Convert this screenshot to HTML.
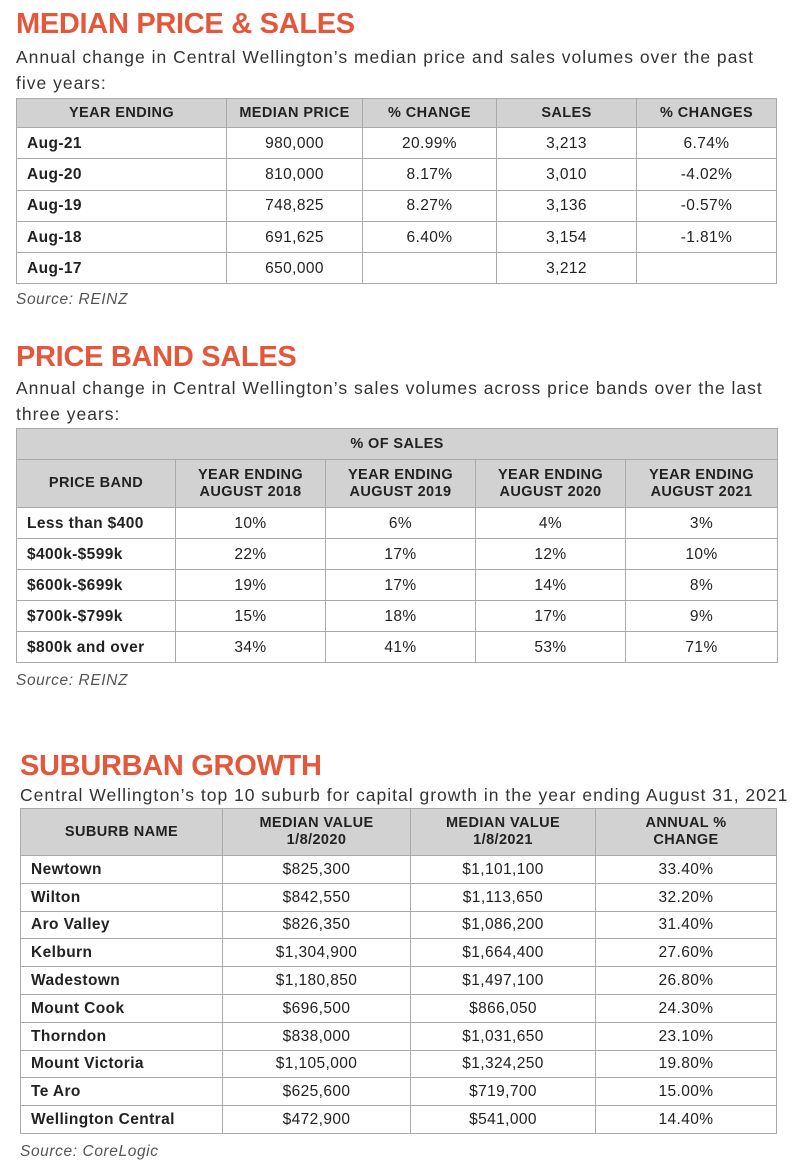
<!DOCTYPE html>
<html><head><meta charset="utf-8"><style>
*{margin:0;padding:0;box-sizing:border-box}
body{width:800px;height:1174px;background:#fff;position:relative;font-family:"Liberation Sans",sans-serif;color:#222;overflow:hidden}
.t{position:absolute;color:#e4573a;font-weight:bold;font-size:29px;letter-spacing:-0.3px}
.s{position:absolute;font-size:17.5px;line-height:26px;color:#333;letter-spacing:1px;white-space:nowrap}
.src{position:absolute;font-size:15.5px;font-style:italic;color:#555;letter-spacing:0.6px}
table{position:absolute;border-collapse:collapse;table-layout:fixed}
td,th{border:1.5px solid #aaa;text-align:center;font-size:15.5px;padding:0;line-height:17px;letter-spacing:0.4px}
th{background:#d2d2d2;font-size:14.5px;font-weight:bold;color:#222}
td.l{text-align:left;font-weight:bold;padding-left:10px}
</style></head><body>
<div class="t" style="left:16px;top:8px">MEDIAN PRICE &amp; SALES</div>
<div class="s" style="left:16px;top:44px">Annual change in Central Wellington’s median price and sales volumes over the past<br>five years:</div>
<table style="left:16px;top:98px;width:760px">
<colgroup><col style="width:210px"><col style="width:136px"><col style="width:134px"><col style="width:140px"><col style="width:140px"></colgroup>
<tr style="height:29px"><th>YEAR ENDING</th><th>MEDIAN PRICE</th><th>% CHANGE</th><th>SALES</th><th>% CHANGES</th></tr>
<tr style="height:31.3px"><td class="l">Aug-21</td><td>980,000</td><td>20.99%</td><td>3,213</td><td>6.74%</td></tr>
<tr style="height:31.3px"><td class="l">Aug-20</td><td>810,000</td><td>8.17%</td><td>3,010</td><td>-4.02%</td></tr>
<tr style="height:31.3px"><td class="l">Aug-19</td><td>748,825</td><td>8.27%</td><td>3,136</td><td>-0.57%</td></tr>
<tr style="height:31.3px"><td class="l">Aug-18</td><td>691,625</td><td>6.40%</td><td>3,154</td><td>-1.81%</td></tr>
<tr style="height:31.3px"><td class="l">Aug-17</td><td>650,000</td><td></td><td>3,212</td><td></td></tr>
</table>
<div class="src" style="left:16px;top:291px">Source: REINZ</div>

<div class="t" style="left:16px;top:341px">PRICE BAND SALES</div>
<div class="s" style="left:16px;top:375px">Annual change in Central Wellington’s sales volumes across price bands over the last<br>three years:</div>
<table style="left:16px;top:428px;width:761px">
<colgroup><col style="width:159px"><col style="width:150px"><col style="width:150px"><col style="width:150px"><col style="width:152px"></colgroup>
<tr style="height:31px"><th colspan="5">% OF SALES</th></tr>
<tr style="height:48px"><th>PRICE BAND</th><th>YEAR ENDING<br>AUGUST 2018</th><th>YEAR ENDING<br>AUGUST 2019</th><th>YEAR ENDING<br>AUGUST 2020</th><th>YEAR ENDING<br>AUGUST 2021</th></tr>
<tr style="height:31px"><td class="l">Less than $400</td><td>10%</td><td>6%</td><td>4%</td><td>3%</td></tr>
<tr style="height:31px"><td class="l">$400k-$599k</td><td>22%</td><td>17%</td><td>12%</td><td>10%</td></tr>
<tr style="height:31px"><td class="l">$600k-$699k</td><td>19%</td><td>17%</td><td>14%</td><td>8%</td></tr>
<tr style="height:31px"><td class="l">$700k-$799k</td><td>15%</td><td>18%</td><td>17%</td><td>9%</td></tr>
<tr style="height:31px"><td class="l">$800k and over</td><td>34%</td><td>41%</td><td>53%</td><td>71%</td></tr>
</table>
<div class="src" style="left:16px;top:672px">Source: REINZ</div>

<div class="t" style="left:20px;top:750px">SUBURBAN GROWTH</div>
<div class="s" style="left:20px;top:782px">Central Wellington’s top 10 suburb for capital growth in the year ending August 31, 2021</div>
<table style="left:20px;top:808px;width:756px">
<colgroup><col style="width:202px"><col style="width:188px"><col style="width:185px"><col style="width:181px"></colgroup>
<tr style="height:47px"><th>SUBURB NAME</th><th>MEDIAN VALUE<br>1/8/2020</th><th>MEDIAN VALUE<br>1/8/2021</th><th>ANNUAL %<br>CHANGE</th></tr>
<tr style="height:27.8px"><td class="l">Newtown</td><td>$825,300</td><td>$1,101,100</td><td>33.40%</td></tr>
<tr style="height:27.8px"><td class="l">Wilton</td><td>$842,550</td><td>$1,113,650</td><td>32.20%</td></tr>
<tr style="height:27.8px"><td class="l">Aro Valley</td><td>$826,350</td><td>$1,086,200</td><td>31.40%</td></tr>
<tr style="height:27.8px"><td class="l">Kelburn</td><td>$1,304,900</td><td>$1,664,400</td><td>27.60%</td></tr>
<tr style="height:27.8px"><td class="l">Wadestown</td><td>$1,180,850</td><td>$1,497,100</td><td>26.80%</td></tr>
<tr style="height:27.8px"><td class="l">Mount Cook</td><td>$696,500</td><td>$866,050</td><td>24.30%</td></tr>
<tr style="height:27.8px"><td class="l">Thorndon</td><td>$838,000</td><td>$1,031,650</td><td>23.10%</td></tr>
<tr style="height:27.8px"><td class="l">Mount Victoria</td><td>$1,105,000</td><td>$1,324,250</td><td>19.80%</td></tr>
<tr style="height:27.8px"><td class="l">Te Aro</td><td>$625,600</td><td>$719,700</td><td>15.00%</td></tr>
<tr style="height:27.8px"><td class="l">Wellington Central</td><td>$472,900</td><td>$541,000</td><td>14.40%</td></tr>
</table>
<div class="src" style="left:20px;top:1143px">Source: CoreLogic</div>
</body></html>
